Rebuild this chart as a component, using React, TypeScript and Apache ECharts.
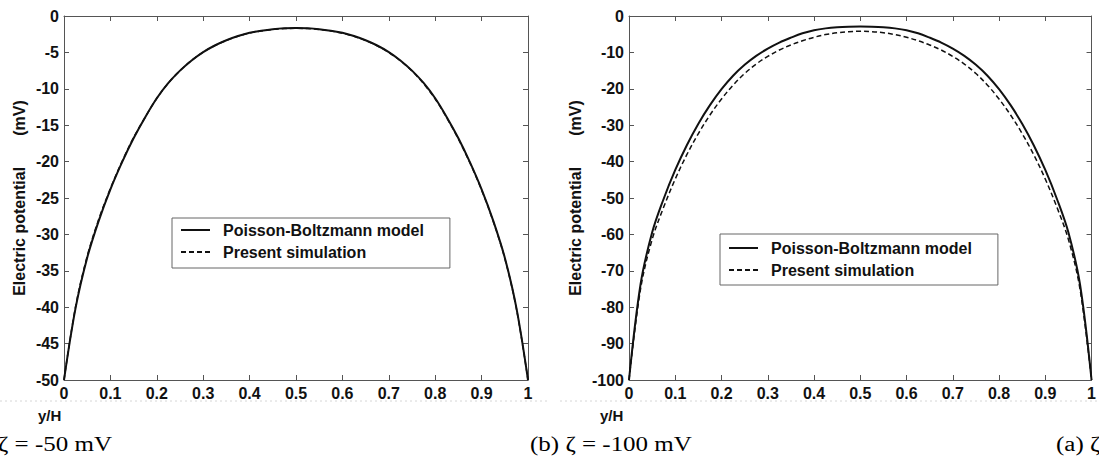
import React, { useEffect, useRef } from "react";
import * as echarts from "echarts";

// ---- data ----
const seriesNames = ["Poisson-Boltzmann model", "Present simulation"];

// y/H positions (both panels)
const yH = [0, 0.025, 0.05, 0.075, 0.1, 0.125, 0.15, 0.175, 0.2, 0.225, 0.25, 0.275, 0.3, 0.325, 0.35, 0.375, 0.4, 0.425, 0.45, 0.475, 0.5,
  0.525, 0.55, 0.575, 0.6, 0.625, 0.65, 0.675, 0.7, 0.725, 0.75, 0.775, 0.8, 0.825, 0.85, 0.875, 0.9, 0.925, 0.95, 0.975, 1];

// left panel: zeta = -50 mV
const pbLeft = [-50, -40.1, -33.2, -28.1, -23.8, -20.1, -16.8, -13.9, -11.3, -9.2, -7.5, -6.1, -4.95, -4.05, -3.33, -2.75, -2.3, -2.02, -1.81, -1.69, -1.65,
  -1.69, -1.81, -2.02, -2.3, -2.75, -3.33, -4.05, -4.95, -6.1, -7.5, -9.2, -11.3, -13.9, -16.8, -20.1, -23.8, -28.1, -33.2, -40.1, -50];
const simLeft = [-50, -39.9, -33.0, -27.9, -23.7, -20.0, -16.7, -13.9, -11.3, -9.2, -7.5, -6.1, -4.95, -4.07, -3.36, -2.79, -2.34, -2.06, -1.85, -1.73, -1.69,
  -1.73, -1.85, -2.06, -2.36, -2.8, -3.38, -4.1, -5.0, -6.15, -7.55, -9.3, -11.4, -14.0, -16.9, -20.2, -23.9, -28.2, -33.3, -40.2, -50];

// right panel: zeta = -100 mV
const pbRight = [-100, -73.7, -59.5, -50.2, -42.3, -35.5, -29.6, -24.5, -20.1, -16.4, -13.4, -10.95, -8.95, -7.3, -5.95, -4.75, -3.9, -3.4, -3.1, -2.95, -2.9,
  -2.95, -3.1, -3.4, -3.9, -4.75, -5.95, -7.3, -8.95, -10.95, -13.4, -16.4, -20.1, -24.5, -29.6, -35.5, -42.3, -50.2, -59.5, -73.7, -100];
const simRight = [-100, -75, -61.4, -52.5, -44.8, -38.1, -32.3, -27.2, -22.8, -19.0, -15.8, -13.2, -11.1, -9.35, -7.95, -6.8, -5.85, -5.1, -4.6, -4.3, -4.2,
  -4.3, -4.6, -5.1, -5.85, -6.8, -7.95, -9.35, -11.1, -13.2, -15.8, -19.0, -22.8, -27.2, -32.3, -38.1, -44.8, -52.5, -61.4, -75, -100];

const leftYTicks = { min: -50, max: 0, interval: 5 };
const rightYTicks = { min: -100, max: 0, interval: 10 };
const xTicks = { min: 0, max: 1, interval: 0.1 };

const captions = [
  { text: "ζ = -50 mV", x: -2 },
  { text: "(b) ζ = -100 mV", x: 530 },
  { text: "(a) ζ", x: 1056 },
];

const SANS = "'Liberation Sans', Arial, sans-serif";
const SERIF = "'Liberation Serif', 'Times New Roman', serif";
const AX = "#555";
const INK = "#111";

function pairs(xs: number[], ys: number[]) {
  return xs.map((x, i) => [x, ys[i]]);
}

export default function App() {
  const ref = useRef<HTMLDivElement>(null);
  useEffect(() => {
    if (!ref.current) return;
    const chart = echarts.init(ref.current, null, { renderer: "svg" });

    const grids = [
      { left: 64, top: 16, width: 464, height: 364 },
      { left: 629, top: 16, width: 463, height: 364 },
    ];

    const xAxes: any[] = [];
    const yAxes: any[] = [];
    [0, 1].forEach((g) => {
      const common = {
        gridIndex: g,
        type: "value",
        min: xTicks.min,
        max: xTicks.max,
        interval: xTicks.interval,
        splitLine: { show: false },
        axisLine: { show: true, onZero: false, lineStyle: { color: AX, width: 1 } },
        axisTick: { show: true, inside: true, length: 5, lineStyle: { color: AX } },
      };
      xAxes.push({
        ...common,
        position: "bottom",
        axisLabel: {
          color: INK,
          fontWeight: "bold",
          fontSize: 16,
          fontFamily: SANS,
          margin: 5,
          formatter: (v: number) => String(Math.round(v * 10) / 10),
        },
      });
      xAxes.push({ ...common, position: "top", axisLabel: { show: false } });

      const yt = g === 0 ? leftYTicks : rightYTicks;
      const ycommon = {
        gridIndex: g,
        type: "value",
        min: yt.min,
        max: yt.max,
        interval: yt.interval,
        splitLine: { show: false },
        axisLine: { show: true, onZero: false, lineStyle: { color: AX, width: 1 } },
        axisTick: { show: true, inside: true, length: 5, lineStyle: { color: AX } },
      };
      yAxes.push({
        ...ycommon,
        position: "left",
        name: "Electric potential       (mV)",
        nameLocation: "middle",
        nameGap: g === 0 ? 37 : 46,
        nameTextStyle: { color: INK, fontWeight: "bold", fontSize: 16, fontFamily: SANS },
        axisLabel: { color: INK, fontWeight: "bold", fontSize: 16, fontFamily: SANS, margin: 5 },
      });
      yAxes.push({ ...ycommon, position: "right", axisLabel: { show: false } });
    });

    const mkSeries = (name: string, g: number, data: number[][], dashed: boolean) => ({
      name,
      type: "line",
      xAxisIndex: g * 2,
      yAxisIndex: g * 2,
      data,
      showSymbol: false,
      symbol: "none",
      smooth: 0.35,
      lineStyle: dashed
        ? { color: INK, width: 1.5, type: [5, 3] }
        : { color: INK, width: 2, type: "solid" },
      itemStyle: { color: INK },
      z: dashed ? 3 : 2,
    });

    const legendData = [
      { name: seriesNames[0], icon: "path://M0,0H29V2H0Z" },
      { name: seriesNames[1], icon: "path://M0,0H5V2H0Z M8,0H13V2H8Z M16,0H21V2H16Z M24,0H29V2H24Z" },
    ];
    const legendCommon = {
      orient: "vertical",
      data: legendData,
      borderColor: "#666",
      borderWidth: 1,
      itemGap: 6,
      itemWidth: 29,
      itemHeight: 2,
      selectedMode: false,
      textStyle: { color: INK, fontWeight: "bold", fontSize: 16, lineHeight: 14, fontFamily: SANS, padding: [0, 0, 0, 8] },
    };

    const graphics: any[] = captions.map((c) => ({
      type: "text",
      x: c.x,
      y: 444,
      scaleX: 1.25,
      style: { text: c.text, fontSize: 20, fontFamily: SERIF, fill: "#000", verticalAlign: "middle" },
    }));
    graphics.push(
      { type: "text", x: 38, y: 415, style: { text: "y/H", fontSize: 15, fontWeight: "bold", fontFamily: SANS, fill: INK, verticalAlign: "middle" } },
      { type: "text", x: 600, y: 415, style: { text: "y/H", fontSize: 15, fontWeight: "bold", fontFamily: SANS, fill: INK, verticalAlign: "middle" } },
      { type: "line", shape: { x1: 0, y1: 401, x2: 548, y2: 401 }, style: { stroke: "#bbb", lineWidth: 1, lineDash: [2, 3], opacity: 0.6 } },
      { type: "line", shape: { x1: 560, y1: 401, x2: 1099, y2: 401 }, style: { stroke: "#bbb", lineWidth: 1, lineDash: [2, 3], opacity: 0.6 } }
    );

    chart.setOption({
      animation: false,
      backgroundColor: "#fff",
      grid: grids,
      xAxis: xAxes,
      yAxis: yAxes,
      legend: [
        { ...legendCommon, left: 172, top: 218, padding: [4, 26, 8, 9] },
        { ...legendCommon, left: 720, top: 234, padding: [6, 26, 7, 9] },
      ],
      series: [
        mkSeries(seriesNames[0], 0, pairs(yH, pbLeft), false),
        mkSeries(seriesNames[1], 0, pairs(yH, simLeft), true),
        mkSeries(seriesNames[0], 1, pairs(yH, pbRight), false),
        mkSeries(seriesNames[1], 1, pairs(yH, simRight), true),
      ],
      graphic: graphics,
    });

    return () => chart.dispose();
  }, []);

  return (
    <div
      ref={ref}
      style={{ position: "fixed", left: 0, top: 0, width: 1099, height: 463, background: "#fff" }}
    />
  );
}
